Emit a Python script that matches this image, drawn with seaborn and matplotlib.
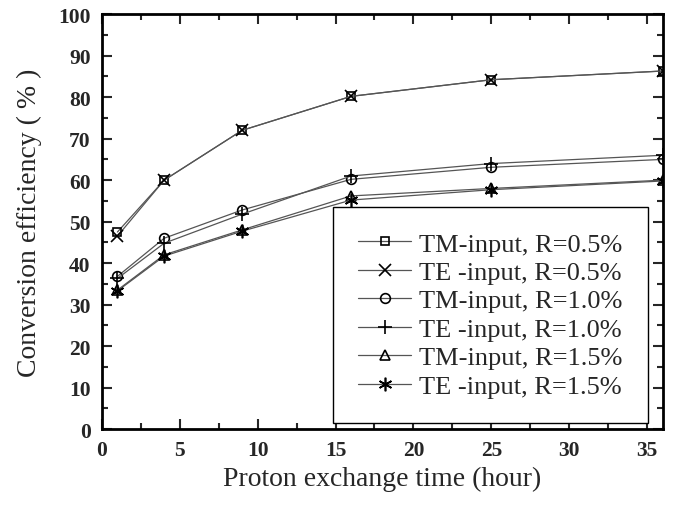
import matplotlib
matplotlib.use("Agg")
import matplotlib.pyplot as plt
from matplotlib.ticker import MultipleLocator
import seaborn as sns
import pandas as pd

hours = [1, 4, 9, 16, 25, 36]
tm_05 = [47.5, 60.0, 72.0, 80.2, 84.2, 86.3]
te_05 = [46.5, 60.0, 72.0, 80.2, 84.2, 86.3]
tm_10 = [36.8, 46.0, 52.8, 60.2, 63.1, 65.0]
te_10 = [36.3, 44.8, 51.8, 61.0, 64.0, 66.0]
tm_15 = [33.5, 42.0, 48.0, 56.2, 58.0, 60.0]
te_15 = [33.3, 41.7, 47.7, 55.2, 57.7, 59.8]
labels = ["TM-input, R=0.5%", "TE -input, R=0.5%", "TM-input, R=1.0%",
          "TE -input, R=1.0%", "TM-input, R=1.5%", "TE -input, R=1.5%"]
series = [tm_05, te_05, tm_10, te_10, tm_15, te_15]
markers = ["s", "x", "o", "+", "^", (6, 2, 0)]
msizes = [9, 12, 10, 14, 10, 14]

sns.set_style("ticks")
plt.rcParams['font.family'] = ['Liberation Serif', 'DejaVu Serif']

fig = plt.figure(figsize=(6.79, 5.06), dpi=100)
ax = fig.add_axes([0.150, 0.150, 0.826, 0.820])

for lab, vals, mk, ms in zip(labels, series, markers, msizes):
    df = pd.DataFrame({"x": hours, "y": vals})
    sns.lineplot(data=df, x="x", y="y", ax=ax, color="black", lw=0.9,
                 marker=mk, markersize=ms, markerfacecolor="none",
                 markeredgecolor="black", markeredgewidth=1.2, label=lab)

ax.set_xlim(0, 36)
ax.set_ylim(0, 100)
ax.xaxis.set_major_locator(MultipleLocator(5))
ax.xaxis.set_minor_locator(MultipleLocator(2.5))
ax.yaxis.set_major_locator(MultipleLocator(10))
ax.yaxis.set_minor_locator(MultipleLocator(5))
ax.tick_params(which="both", direction="in", top=True, right=True, width=1.5)
ax.tick_params(which="major", length=7, labelsize=15.5, pad=8)
ax.tick_params(which="minor", length=4)
for lbl in ax.get_xticklabels() + ax.get_yticklabels():
    lbl.set_fontweight("bold")
for sp in ax.spines.values():
    sp.set_linewidth(2)
    sp.set_color("black")

ax.set_xlabel("Proton exchange time (hour)", fontsize=20, labelpad=4)
ax.set_ylabel("Conversion efficiency ( % )", fontsize=20, labelpad=12)

handles, labs = ax.get_legend_handles_labels()
for h in handles:
    h.set_markersize(h.get_markersize() * 0.7)
    h.set_color("#555555")
    h.set_markeredgecolor("black")
leg = ax.legend(handles, labs, loc="center",
                bbox_to_anchor=(0.693, 0.275),
                fontsize=19, labelspacing=0.19, handlelength=2.0,
                handletextpad=0.3, fancybox=False, edgecolor="black",
                framealpha=1, borderpad=0.95, borderaxespad=0)
leg.get_frame().set_linewidth(1.0)

fig.savefig("out.png", dpi=100)
